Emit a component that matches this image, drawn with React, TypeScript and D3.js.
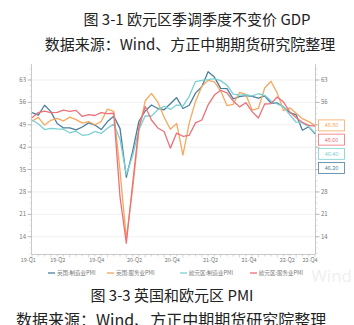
import React from "react";
import * as d3 from "d3";

const months: string[] = [];
for (let y = 2019; y <= 2022; y++) for (let m = 1; m <= 12; m++) months.push(`${y}-${String(m).padStart(2, "0")}`);
const dates = months.slice(0, 46);

const ukMfg = [52.8, 52.0, 55.1, 53.1, 49.4, 48.0, 48.0, 47.4, 48.3, 49.6, 48.9, 47.5,
  50.0, 51.7, 47.8, 32.6, 40.7, 50.1, 53.3, 55.2, 54.1, 53.7, 55.6, 57.5,
  54.1, 55.1, 58.9, 60.9, 65.6, 63.9, 60.4, 60.3, 57.1, 57.8, 58.1, 57.9,
  57.3, 58.0, 55.8, 55.8, 54.6, 52.8, 52.1, 47.3, 48.4, 46.2];
const ukSvc = [50.1, 51.3, 48.9, 50.4, 51.0, 50.2, 51.4, 50.6, 49.5, 50.0, 49.0, 50.0,
  53.9, 53.2, 34.5, 13.4, 29.0, 47.1, 56.5, 58.8, 56.1, 51.4, 47.6, 49.4,
  39.5, 49.5, 56.3, 61.0, 62.9, 62.4, 59.6, 55.0, 55.4, 59.1, 58.5, 53.6,
  54.1, 60.5, 62.6, 58.9, 53.4, 54.3, 52.6, 50.9, 50.0, 48.8];
const ezMfg = [50.5, 49.3, 47.5, 47.9, 47.7, 47.6, 46.5, 47.0, 45.7, 45.9, 46.9, 46.3,
  47.9, 49.2, 44.5, 33.4, 39.4, 47.4, 51.8, 51.7, 53.7, 54.8, 53.8, 55.2,
  54.8, 57.9, 62.5, 62.9, 63.1, 63.4, 62.8, 61.4, 58.6, 58.3, 58.4, 58.0,
  58.7, 58.2, 56.5, 55.5, 54.6, 52.1, 49.8, 49.6, 48.4, 46.4];
const ezSvc = [51.2, 52.8, 53.3, 52.8, 52.9, 53.6, 53.2, 53.5, 51.6, 52.2, 51.9, 52.8,
  52.5, 52.6, 26.4, 12.0, 30.5, 48.3, 54.7, 50.5, 48.0, 46.9, 41.7, 46.4,
  45.4, 45.7, 49.6, 50.5, 55.2, 58.3, 59.8, 59.0, 56.4, 54.6, 55.9, 53.1,
  51.1, 55.5, 55.6, 57.7, 56.1, 53.0, 51.2, 49.8, 48.8, 48.6];

const seriesNames = ["英国:制造业PMI", "英国:服务业PMI", "欧元区:制造业PMI", "欧元区:服务业PMI"];
const seriesColors = ["#4a7f9e", "#f5a85e", "#7ccfd2", "#ec7078"];
const seriesValues = [ukMfg, ukSvc, ezMfg, ezSvc];

const yTicks = [14, 21, 28, 35, 42, 49, 56, 63];
const xTickLabels = ["19-Q1", "19-Q2", "19-Q4", "20-Q2", "20-Q4", "21-Q2", "21-Q4", "22-Q2", "22-Q4"];
const xTickIdx = [-0.6, 4.1, 10.3, 16.3, 22.3, 28.4, 34.5, 40.6, 44.2];

const titleTop1 = "图 3-1  欧元区季调季度不变价 GDP";
const titleTop2 = "数据来源：Wind、方正中期期货研究院整理";
const caption1 = "图 3-3  英国和欧元区 PMI";
const caption2 = "数据来源：Wind、方正中期期货研究院整理";

const FONT = "'Noto Sans CJK SC', 'Noto Sans', sans-serif";

export default function App() {
  const W = 354, H = 325;
  const x = d3.scaleLinear().domain([0, dates.length - 1]).range([32, 315]);
  const y = d3.scaleLinear().domain([8.6, 68]).range([254, 64]);
  const line = d3.line<number>().x((_, i) => x(i)).y((v) => y(v));

  const order = seriesValues.map((s, i) => ({ i, v: s[s.length - 1] })).sort((a, b) => b.v - a.v);
  let prev = -Infinity;
  const labels = order.map((o) => {
    const yy = Math.max(y(o.v), prev + 14.2);
    prev = yy;
    return { ...o, y: yy };
  });
  const boxTop = labels[0].y - 6;
  const boxBottom = labels[labels.length - 1].y + 6;

  const minorY = d3.range(8.75, 68, 1.75);

  return (
    <svg width={W} height={H} style={{ position: "absolute", left: 0, top: 0, background: "#fff" }}>
      <text x={197} y={25} textAnchor="middle" fontSize={15} fill="#222" fontFamily={FONT}>{titleTop1}</text>
      <text x={190} y={50} textAnchor="middle" fontSize={15} fill="#222" fontFamily={FONT}>{titleTop2}</text>

      {/* watermark */}
      <text x={352} y={282} textAnchor="end" fontSize={17} fill="#efefef" fontFamily="'Open Sans', sans-serif">Wind</text>

      {yTicks.map((t) => (
        <line key={t} x1={32} x2={315} y1={y(t)} y2={y(t)} stroke="#eeeeee" strokeWidth={0.8} />
      ))}

      <line x1={31.5} x2={31.5} y1={64} y2={254} stroke="#bbb" strokeWidth={0.8} />
      <line x1={315.5} x2={315.5} y1={64} y2={254} stroke="#bbb" strokeWidth={0.8} />
      {minorY.map((t) => (
        <g key={"m" + t}>
          <line x1={29.5} x2={31.5} y1={y(t)} y2={y(t)} stroke="#ccc" strokeWidth={0.6} />
          <line x1={315.5} x2={317.5} y1={y(t)} y2={y(t)} stroke="#ccc" strokeWidth={0.6} />
        </g>
      ))}
      {yTicks.map((t) => {
        const hidden = y(t) > boxTop - 3 && y(t) < boxBottom + 3;
        return (
          <g key={"t" + t}>
            <line x1={27.5} x2={31.5} y1={y(t)} y2={y(t)} stroke="#aaa" strokeWidth={0.8} />
            <text x={26} y={y(t) + 2} textAnchor="end" fontSize={6} fill="#777" fontFamily={FONT}>{t}</text>
            <line x1={315.5} x2={319.5} y1={y(t)} y2={y(t)} stroke="#aaa" strokeWidth={0.8} />
            {!hidden && (
              <text x={321} y={y(t) + 2} textAnchor="start" fontSize={6} fill="#777" fontFamily={FONT}>{t}</text>
            )}
          </g>
        );
      })}

      <line x1={31.5} x2={315.5} y1={254.5} y2={254.5} stroke="#bbb" strokeWidth={0.8} />
      {dates.map((d, i) => (
        <line key={d} x1={x(i)} x2={x(i)} y1={254.5} y2={i % 3 === 0 ? 257.5 : 256.5} stroke="#bbb" strokeWidth={0.6} />
      ))}
      {xTickLabels.map((l, k) => (
        <text key={l} x={x(xTickIdx[k])} y={262} textAnchor="middle" fontSize={5.5} fill="#777" fontFamily={FONT}>{l}</text>
      ))}

      {seriesValues.map((s, i) => (
        <path key={i} d={line(s) || ""} fill="none" stroke={seriesColors[i]} strokeWidth={1.3} strokeLinejoin="round" />
      ))}

      {labels.map((l) => (
        <g key={"l" + l.i}>
          <rect x={318.5} y={l.y - 5.5} width={26} height={11} fill="#fff" stroke={seriesColors[l.i]} strokeWidth={0.8} />
          <text x={331.5} y={l.y + 2} textAnchor="middle" fontSize={5.5} fill={seriesColors[l.i]} fontFamily={FONT}>{l.v.toFixed(2)}</text>
        </g>
      ))}

      {seriesNames.map((n, i) => {
        const lx = [48, 107, 180, 250][i];
        return (
          <g key={n}>
            <line x1={lx} x2={lx + 7} y1={273} y2={273} stroke={seriesColors[i]} strokeWidth={1.3} />
            <text x={lx + 9} y={275} fontSize={5.5} fill="#777" fontFamily={FONT}>{n}</text>
          </g>
        );
      })}

      <text x={172} y={301} textAnchor="middle" fontSize={15} fill="#222" fontFamily={FONT}>{caption1}</text>
      <text x={16} y={326} textAnchor="start" fontSize={16} fill="#222" fontFamily={FONT}>{caption2}</text>
    </svg>
  );
}
